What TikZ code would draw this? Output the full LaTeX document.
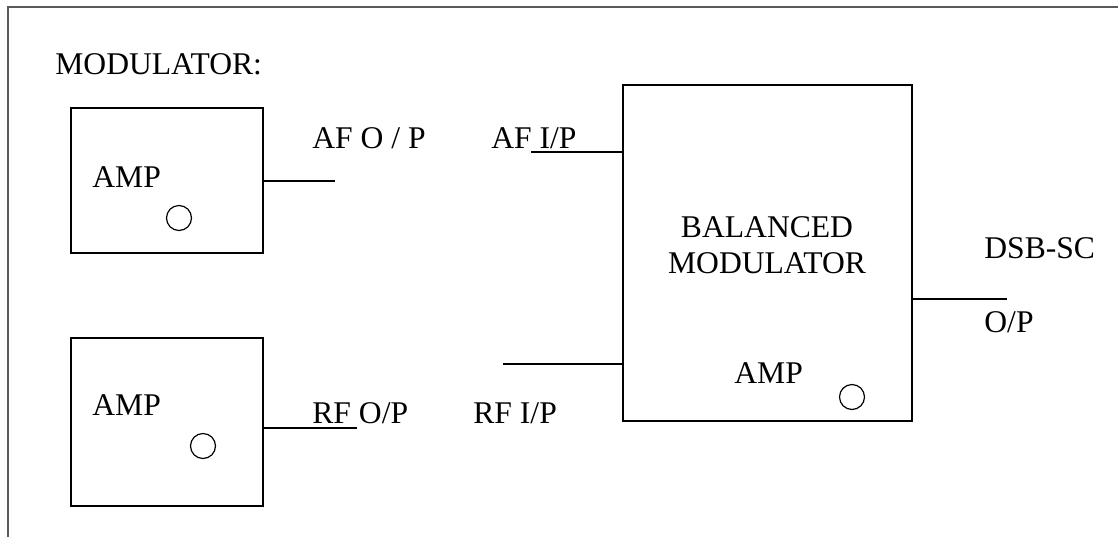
\documentclass[tikz,border=0pt]{standalone}
\usepackage{fontspec}
\setmainfont{Liberation Serif}
\begin{document}
\begin{tikzpicture}[x=0.5pt,y=-0.5pt,
  blk/.style={draw, line width=1pt, inner sep=0pt, outer sep=0pt},
  lbl/.style={inner sep=0pt, anchor=base west, font=\fontsize{15.8}{18}\selectfont},
  knob/.style={draw, circle, line width=0.6pt, minimum size=12.5pt, inner sep=0pt},
  wire/.style={line width=1pt}]
\useasboundingbox (0,0) rectangle (1118,537);
% frame
\draw[line width=1pt, color=black!65] (8,537) -- (8,7) -- (1118,7);
% title
\node[lbl] (title) at (55,74) {MODULATOR:};
% boxes
\node[blk, minimum width=96pt, minimum height=72.5pt] (amp1) at (167,180.5) {};
\node[blk, minimum width=96pt, minimum height=84pt] (amp2) at (167,422) {};
\node[blk, minimum width=144.5pt, minimum height=168pt] (bal) at (767.5,253) {};
% texts
\node[lbl] (t1) at (92,187) {AMP};
\node[lbl] (t2) at (92,415) {AMP};
\node[lbl] (t3) at (734,383) {AMP};
\node[lbl, anchor=base] (b1) at (767,237) {BALANCED};
\node[lbl, anchor=base] (b2) at (767,273) {MODULATOR};
\node[lbl] (afo) at (312,148) {AF O / P};
\node[lbl] (afi) at (491,148) {AF I/P};
\node[lbl] (rfo) at (312,423) {RF O/P};
\node[lbl] (rfi) at (473,423) {RF I/P};
\node[lbl] (dsb) at (984,258) {DSB-SC};
\node[lbl] (op) at (984,332) {O/P};
% knobs
\node[knob] (k1) at (179,218) {};
\node[knob] (k2) at (203,446) {};
\node[knob] (k3) at (852,397) {};
% connector ends
\coordinate (afoE) at (335,181);
\coordinate (afiE) at (531,152);
\coordinate (rfoE) at (357,428);
\coordinate (rfiE) at (503,364);
\coordinate (outE) at (1007,299);
% connectors
\draw[wire] (amp1.east |- afoE) -- (afoE);
\draw[wire] (afiE) -- (bal.west |- afiE);
\draw[wire] (amp2.east |- rfoE) -- (rfoE);
\draw[wire] (rfiE) -- (bal.west |- rfiE);
\draw[wire] (bal.east |- outE) -- (outE);
\end{tikzpicture}
\end{document}
